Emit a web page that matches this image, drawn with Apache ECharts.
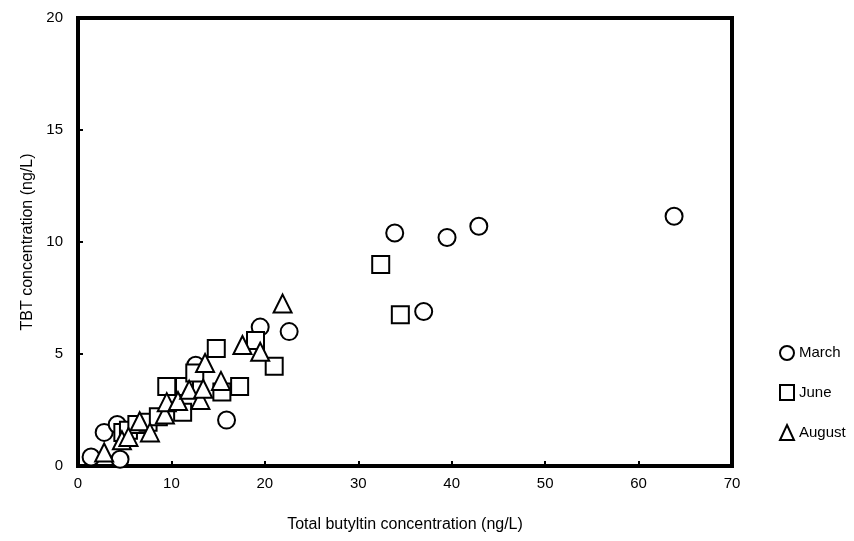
<!DOCTYPE html>
<html><head><meta charset="utf-8">
<script src="https://cdn.jsdelivr.net/npm/echarts@6/dist/echarts.min.js"></script>
<style>html,body{margin:0;padding:0;background:#fff}#c{width:854px;height:541px}</style>
</head><body><div id="c"></div>
<script>
var seriesNames = ['March', 'June', 'August'];
var marchData = [[1.4,0.4],[4.5,0.3],[2.8,1.5],[4.2,1.85],[12.6,4.5],[15.9,2.05],[19.5,6.2],[22.6,6.0],[33.9,10.4],[37.0,6.9],[39.5,10.2],[42.9,10.7],[63.8,11.15]];
var juneData = [[4.8,1.5],[5.4,1.6],[6.3,1.85],[7.5,1.95],[8.6,2.2],[9.5,3.55],[11.2,2.4],[11.4,3.55],[12.5,4.15],[14.8,5.25],[15.4,3.3],[17.3,3.55],[19.0,5.6],[21.0,4.45],[32.4,9.0],[34.5,6.75]];
var augustData = [[2.8,0.6],[4.7,1.15],[5.4,1.3],[6.6,2.0],[7.7,1.5],[9.3,2.3],[9.5,2.85],[10.7,2.9],[11.9,3.4],[13.1,2.95],[13.4,3.45],[13.6,4.6],[15.3,3.8],[17.6,5.4],[19.5,5.1],[21.9,7.25]];
var xTicks = [0,10,20,30,40,50,60,70];
var yTicks = [0,5,10,15,20];

var chart = echarts.init(document.getElementById('c'), null, {renderer:'canvas'});
var font = 'Liberation Sans, Arial, sans-serif';
var symbols = ['circle','rect','triangle'];
var datas = [marchData, juneData, augustData];
var series = seriesNames.map(function(n,i){
  return {
    name: n, type: 'scatter', data: datas[i], symbol: symbols[i],
    symbolSize: i===2 ? 18 : 17,
    itemStyle: {color: '#fff', borderColor: '#000', borderWidth: 2, opacity: 1},
    z: 3 + i
  };
});
chart.setOption({
  animation: false,
  backgroundColor: '#fff',
  grid: {left: 78, right: 122, top: 18, bottom: 75, show: true, borderColor: '#000', borderWidth: 4, backgroundColor: 'transparent'},
  legend: {
    orient: 'vertical', left: 774, top: 340, itemGap: 23, itemWidth: 14, itemHeight: 15,
    textStyle: {fontFamily: font, fontSize: 15, color: '#000', padding: [0,0,0,0]},
    data: seriesNames.map(function(n,i){return {name:n, icon: symbols[i], itemStyle:{color:'#fff', borderColor:'#000', borderWidth:2}};})
  },
  xAxis: {
    type: 'value', min: xTicks[0], max: xTicks[xTicks.length-1], interval: 10,
    name: 'Total butyltin concentration (ng/L)', nameLocation: 'middle', nameGap: 51,
    nameTextStyle: {fontFamily: font, fontSize: 16, color: '#000'},
    axisLine: {lineStyle: {color: '#000', width: 4}},
    axisTick: {inside: true, length: 5, lineStyle: {color: '#000', width: 2}},
    axisLabel: {fontFamily: font, fontSize: 15, color: '#000', margin: 10},
    splitLine: {show: false}
  },
  yAxis: {
    type: 'value', min: yTicks[0], max: yTicks[yTicks.length-1], interval: 5,
    name: 'TBT concentration (ng/L)', nameLocation: 'middle', nameGap: 37,
    nameTextStyle: {fontFamily: font, fontSize: 16, color: '#000'},
    axisLine: {show: true, lineStyle: {color: '#000', width: 4}},
    axisTick: {show: true, inside: true, length: 5, lineStyle: {color: '#000', width: 2}},
    axisLabel: {fontFamily: font, fontSize: 15, color: '#000', margin: 15},
    splitLine: {show: false}
  },
  series: series
});
</script></body></html>
